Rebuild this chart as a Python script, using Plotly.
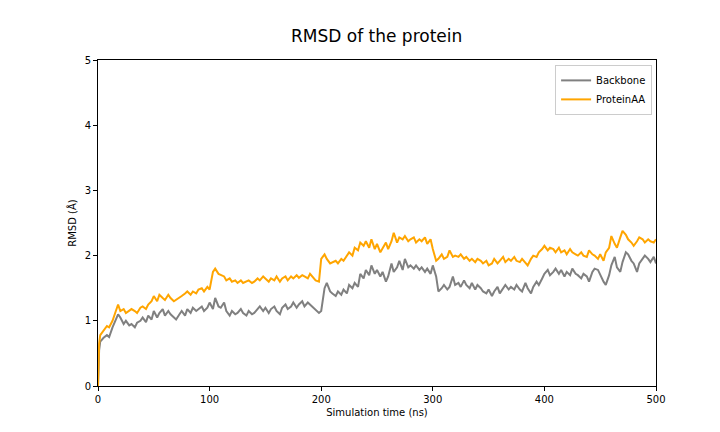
import plotly.graph_objects as go

time_ns = [0, 1, 2, 5, 8, 10, 13, 15, 18, 20, 23, 25, 28, 30, 33, 35, 38, 40, 43, 45, 48, 50, 53, 55, 58, 60, 63, 65, 68, 70,
           73, 75, 78, 80, 83, 85, 88, 90, 93, 95, 98, 100, 103, 105, 108, 110, 113, 115, 118, 120, 123, 125, 128, 130,
           133, 135, 138, 140, 143, 145, 148, 150, 153, 155, 158, 160, 163, 165, 168, 170, 173, 175, 178, 180, 183, 185,
           188, 190, 193, 195, 198, 200, 203, 205, 208, 210, 213, 215, 218, 220, 223, 225, 228, 230, 233, 235, 238, 240,
           243, 245, 248, 250, 253, 255, 258, 260, 263, 265, 268, 270, 273, 275, 278, 280, 283, 285, 288, 290, 293, 295,
           298, 300, 303, 305, 308, 310, 313, 315, 318, 320, 323, 325, 328, 330, 333, 335, 338, 340, 343, 345, 348, 350,
           353, 355, 358, 360, 363, 365, 368, 370, 373, 375, 378, 380, 383, 385, 388, 390, 393, 395, 398, 400, 403, 405,
           408, 410, 413, 415, 418, 420, 423, 425, 428, 430, 433, 435, 438, 440, 443, 445, 448, 450, 453, 455, 458, 460,
           463, 465, 468, 470, 473, 475, 478, 480, 483, 485, 488, 490, 493, 495, 498, 500]
backbone = [0.0, 0.55, 0.68, 0.74, 0.78, 0.75, 0.9, 0.98, 1.1, 1.05, 0.95, 1.0, 0.93, 0.95, 0.9, 0.97, 1.0, 1.05, 0.98, 1.08,
            1.02, 1.15, 1.05, 1.12, 1.18, 1.08, 1.15, 1.1, 1.05, 1.02, 1.1, 1.15, 1.08, 1.18, 1.12, 1.2, 1.15, 1.18, 1.22,
            1.15, 1.2, 1.28, 1.18, 1.35, 1.22, 1.2, 1.28, 1.15, 1.08, 1.15, 1.1, 1.12, 1.18, 1.12, 1.08, 1.15, 1.1, 1.12,
            1.18, 1.22, 1.15, 1.2, 1.12, 1.18, 1.22, 1.15, 1.1, 1.2, 1.25, 1.18, 1.22, 1.28, 1.2, 1.25, 1.3, 1.22, 1.28,
            1.25, 1.2, 1.18, 1.12, 1.15, 1.5, 1.58, 1.45, 1.42, 1.38, 1.45, 1.4, 1.48, 1.42, 1.55, 1.5, 1.58, 1.52, 1.72,
            1.65, 1.78, 1.7, 1.85, 1.72, 1.78, 1.68, 1.75, 1.6, 1.68, 1.88, 1.75, 1.82, 1.92, 1.78, 1.95, 1.82, 1.85, 1.8,
            1.85, 1.78, 1.82, 1.75, 1.8, 1.72, 1.85, 1.68, 1.45, 1.5, 1.55, 1.48, 1.52, 1.68, 1.55, 1.58, 1.52, 1.62, 1.55,
            1.5, 1.58, 1.48, 1.55, 1.5, 1.45, 1.42, 1.48, 1.38, 1.45, 1.52, 1.42, 1.5, 1.55, 1.48, 1.52, 1.48, 1.55, 1.48,
            1.45, 1.58, 1.5, 1.42, 1.52, 1.6, 1.55, 1.65, 1.72, 1.78, 1.7, 1.75, 1.8, 1.72, 1.78, 1.68, 1.75, 1.7, 1.8, 1.72,
            1.7, 1.65, 1.72, 1.68, 1.6, 1.75, 1.8, 1.78, 1.7, 1.6, 1.55, 1.7, 1.85, 1.98, 1.82, 1.75, 1.9, 2.05, 2.02, 1.92,
            1.88, 1.75, 1.88, 1.95, 2.0, 1.95, 1.9, 1.98, 1.88, 1.9, 1.88, 2.1]
protein_aa = [0.0, 0.65, 0.78, 0.85, 0.92, 0.9, 1.0, 1.1, 1.25, 1.15, 1.18, 1.12, 1.15, 1.18, 1.15, 1.12, 1.2, 1.22, 1.18,
              1.25, 1.3, 1.38, 1.3, 1.4, 1.35, 1.32, 1.4, 1.35, 1.3, 1.32, 1.35, 1.38, 1.42, 1.45, 1.4, 1.45, 1.42, 1.48,
              1.5, 1.45, 1.52, 1.48, 1.75, 1.8, 1.72, 1.7, 1.68, 1.62, 1.65, 1.6, 1.62, 1.58, 1.62, 1.58, 1.6, 1.62, 1.58,
              1.6, 1.65, 1.62, 1.68, 1.65, 1.6, 1.65, 1.62, 1.68, 1.6, 1.65, 1.68, 1.62, 1.68, 1.65, 1.7, 1.66, 1.7, 1.68,
              1.65, 1.72, 1.66, 1.62, 1.6, 1.95, 2.02, 1.95, 1.88, 1.9, 1.92, 1.88, 1.95, 1.92, 2.0, 2.05, 2.0, 2.12, 2.08,
              2.2, 2.15, 2.22, 2.12, 2.25, 2.1, 2.18, 2.05, 2.12, 2.2, 2.1, 2.22, 2.35, 2.2, 2.28, 2.25, 2.3, 2.22, 2.25,
              2.28, 2.2, 2.25, 2.22, 2.28, 2.18, 2.25, 2.1, 1.92, 1.95, 2.02, 1.95, 1.98, 2.08, 1.98, 2.0, 1.98, 2.02, 1.95,
              1.98, 1.92, 1.95, 1.9, 1.95, 1.92, 1.88, 1.92, 1.85, 1.88, 1.95, 1.88, 1.92, 1.98, 1.9, 1.95, 1.92, 1.98, 1.92,
              1.9, 1.95, 1.88, 1.85, 1.95, 2.0, 1.98, 2.05, 2.1, 2.15, 2.08, 2.12, 2.1, 2.05, 2.12, 2.05, 2.08, 2.02, 2.1,
              2.05, 2.02, 2.0, 2.05, 2.0, 1.98, 2.08, 2.02, 2.0, 1.95, 2.02, 1.92, 2.05, 2.12, 2.3, 2.18, 2.12, 2.28, 2.38,
              2.32, 2.25, 2.2, 2.15, 2.22, 2.28, 2.25, 2.2, 2.25, 2.22, 2.2, 2.25, 2.18, 2.4]

fig = go.Figure()
fig.add_trace(go.Scatter(x=time_ns, y=backbone, mode="lines", name="Backbone",
                         line=dict(color="grey", width=2)))
fig.add_trace(go.Scatter(x=time_ns, y=protein_aa, mode="lines", name="ProteinAA",
                         line=dict(color="orange", width=2)))

axis = dict(showgrid=False, zeroline=False, showline=True, linecolor="black", mirror=True,
            ticks="outside", ticklen=4, tickcolor="black", tickfont=dict(size=10, color="black"),
            automargin=False)
fig.update_layout(
    width=720, height=432,
    margin=dict(l=90, r=72, t=52, b=54, autoexpand=False),
    plot_bgcolor="white", paper_bgcolor="white",
    font=dict(family="DejaVu Sans", color="black"),
    title=dict(text="RMSD of the protein", x=0.512, xanchor="center", y=0.935, yanchor="middle",
               font=dict(size=17, color="black")),
    xaxis=dict(axis, range=[0, 500], dtick=100,
               title=dict(text="Simulation time (ns)", font=dict(size=10), standoff=4)),
    yaxis=dict(axis, range=[0, 5], dtick=1,
               title=dict(text="RMSD (Å)", font=dict(size=10), standoff=6)),
    legend=dict(x=0.993, y=0.985, xanchor="right", yanchor="top", bgcolor="white",
                bordercolor="#cccccc", borderwidth=1, font=dict(size=10)),
    showlegend=True,
)
fig.write_html("out.html")
